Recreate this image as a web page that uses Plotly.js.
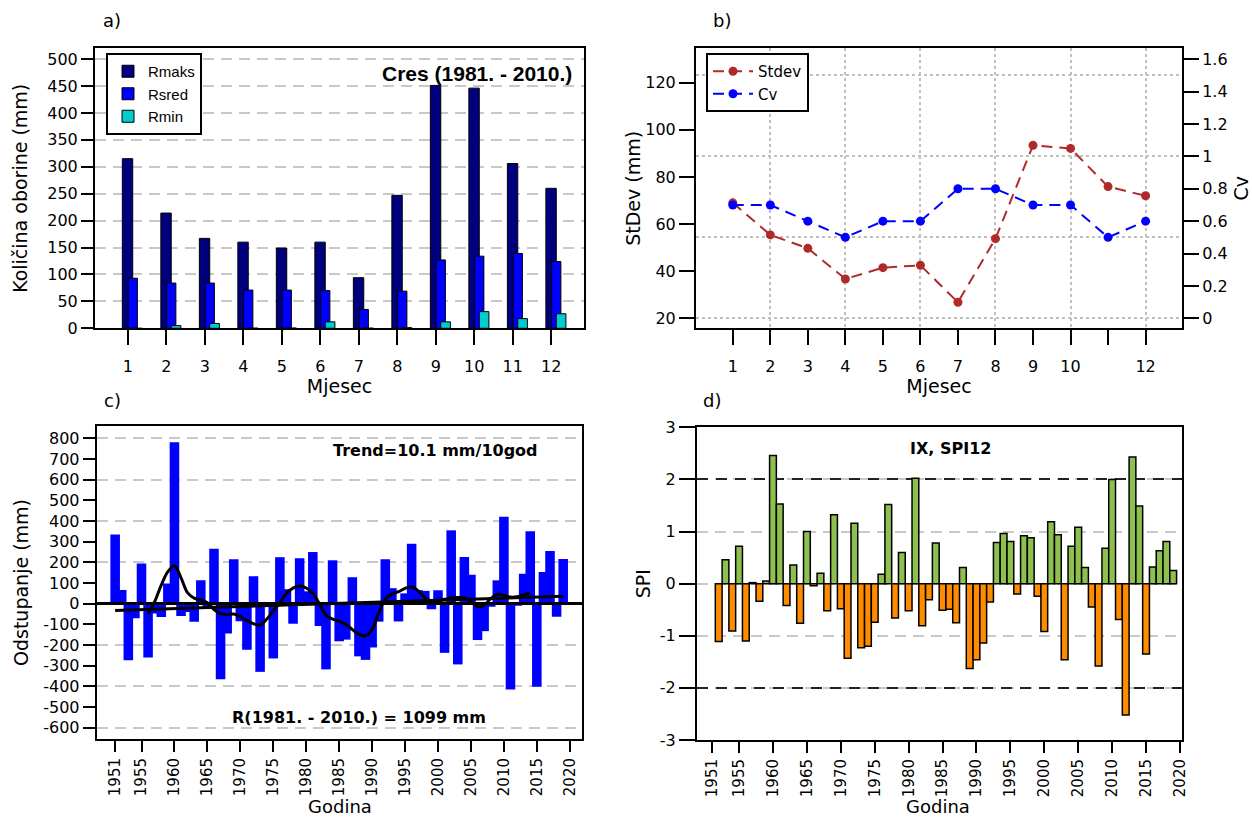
<!DOCTYPE html>
<html><head><meta charset="utf-8">
<script src="https://cdn.plot.ly/plotly-3.0.1.min.js"></script>
<style>html,body{margin:0;padding:0;background:#fff}#chart{width:1252px;height:818px}</style>
</head><body><div id="chart"></div>
<script>
// ---------- data ----------
const months = [1,2,3,4,5,6,7,8,9,10,11,12];
const monthLabels = ['1','2','3','4','5','6','7','8','9','10','11','12'];
const monthLabelsB = ['1','2','3','4','5','6','7','8','9','10','','12'];
const rMaks = [315,214,167,160,149,160,94,247,451,446,306,260];
const rSred = [93,84,84,71,71,70,35,69,127,134,139,124];
const rMin  = [0,5,9,0.3,0.5,12,0.3,1.2,12,31,18,27];
const stdev = [69,55.4,49.7,36.7,41.5,42.5,26.8,53.8,93.4,92.1,75.9,72];
const cv    = [0.7,0.7,0.6,0.5,0.6,0.6,0.8,0.8,0.7,0.7,0.5,0.6];

const devYears = [1951,1952,1953,1954,1955,1956,1957,1958,1959,1960,1961,1962,1963,1964,1965,1966,1967,1968,1969,1970,
  1971,1972,1973,1974,1975,1976,1977,1978,1979,1980,1981,1982,1983,1984,1985,1986,1987,1988,1989,1990,
  1991,1992,1993,1994,1995,1996,1997,1998,1999,2000,2001,2002,2003,2004,2005,2006,2007,2008,2009,2010,
  2011,2012,2013,2014,2015,2016,2017,2018,2019];
const deviation = [335,66,-274,-71,194,-261,-47,-64,98,781,-60,-40,-88,113,-15,266,-366,-144,215,-85,
  -223,133,-330,8,-265,225,70,-97,220,60,250,-108,-318,210,-182,-174,128,-255,-272,-212,
  -87,215,75,-86,50,290,65,62,-27,65,-238,355,-294,226,140,-176,-133,-15,113,421,
  -415,-10,145,350,-402,153,255,-63,216];
const smoothYears = [1956,1957,1958,1959,1960,1961,1962,1963,1964,1965,1966,1967,1968,1969,1970,
  1971,1972,1973,1974,1975,1976,1977,1978,1979,1980,1981,1982,1983,1984,1985,1986,1987,1988,1989,1990,
  1991,1992,1993,1994,1995,1996,1997,1998,1999,2000,2001,2002,2003,2004,2005,2006,2007,2008,2009,2010,
  2011,2012,2013,2014];
const smoothVals = [-50,10,90,155,184,125,52,27,18,5,-28,-48,-52,-50,-62,
  -82,-97,-103,-75,-35,5,50,75,85,76,50,0,-55,-75,-84,-100,-125,-148,-156,-125,
  -45,22,46,58,74,82,62,30,13,15,21,27,30,28,12,-14,-8,25,45,41,
  32,34,44,50];
const trendYears = [1951, 2019];
const trendVals = [-33, 36];
const yearTicks = [1951,1955,1960,1965,1970,1975,1980,1985,1990,1995,2000,2005,2010,2015,2020];

const spiYears = [1952,1953,1954,1955,1956,1957,1958,1959,1960,1961,1962,1963,1964,1965,1966,1967,1968,1969,1970,
  1971,1972,1973,1974,1975,1976,1977,1978,1979,1980,1981,1982,1983,1984,1985,1986,1987,1988,1989,1990,
  1991,1992,1993,1994,1995,1996,1997,1998,1999,2000,2001,2002,2003,2004,2005,2006,2007,2008,2009,2010,
  2011,2012,2013,2014,2015,2016,2017,2018,2019];
const spi = [-1.11,0.46,-0.91,0.72,-1.10,0.02,-0.34,0.05,2.46,1.53,-0.42,0.36,-0.76,1.00,-0.04,0.20,-0.52,1.32,-0.48,
  -1.43,1.16,-1.23,-1.20,-0.74,0.18,1.52,-0.66,0.60,-0.52,2.02,-0.81,-0.31,0.78,-0.51,-0.49,-0.75,0.31,-1.63,-1.46,
  -1.14,-0.35,0.79,0.96,0.81,-0.20,0.92,0.88,-0.24,-0.92,1.19,0.94,-1.46,0.72,1.08,0.31,-0.45,-1.58,0.68,2.00,
  -0.69,-2.52,2.43,1.49,-1.35,0.32,0.63,0.81,0.25];

// ---------- helpers ----------
const W = 1252, H = 818;
const px = v => v / W, py = v => 1 - v / H;
const FONT = 'DejaVu Sans, sans-serif';
const tickF = {family: FONT, size: 16, color: '#000'};
const yearTickF = {family: FONT, size: 15, color: '#000'};
const titleF = {family: FONT, size: 19, color: '#000'};
const godinaF = {family: FONT, size: 18, color: '#000'};
const base = {showline: true, mirror: true, linecolor: '#000', linewidth: 2,
  ticks: 'outside', ticklen: 15, tickwidth: 2, tickcolor: '#000', tickfont: tickF,
  zeroline: false, showgrid: false, automargin: false, fixedrange: true};
const gridOnly = {showline: false, ticks: '', showticklabels: false, zeroline: false, automargin: false};
const toStr = a => a.map(v => String(v));

const aX = [0.15, 12.85], aY = [0, 520];
const bX = [0.02, 12.97], bY = [15.76, 134.6], bC = [-0.0618, 1.668];
const cX = [1948.2, 2021.9], cY = [-655, 860];
const dX = [1948.8, 2020.3], dY = [-3, 3];

const yTicksA = [0,50,100,150,200,250,300,350,400,450,500];
const yTicksB = [20,40,60,80,100,120];
const cvTicks = [0,0.2,0.4,0.6,0.8,1,1.2,1.4,1.6];
const cvGrid = [0,0.5,1,1.5];
const monthGrid = [2,4,6,8,10,12];
const yTicksC = [-600,-500,-400,-300,-200,-100,0,100,200,300,400,500,600,700,800];
const gridC = [-600,-400,-200,200,400,600,800];
const yTicksD = [-3,-2,-1,0,1,2,3];

const traces = [
  {type:'bar', name:'Rmaks', x: months, y: rMaks, xaxis:'x', yaxis:'y', width:0.27, offset:-0.14,
   marker:{color:'#00007f', line:{color:'#000', width:1}}, legend:'legend'},
  {type:'bar', name:'Rsred', x: months, y: rSred, xaxis:'x', yaxis:'y', width:0.24, offset:0.01,
   marker:{color:'#0000ff', line:{color:'#000', width:1}}, legend:'legend'},
  {type:'bar', name:'Rmin', x: months, y: rMin, xaxis:'x', yaxis:'y', width:0.25, offset:0.13,
   marker:{color:'#00cdcd', line:{color:'#000', width:1}}, legend:'legend'},

  {type:'scatter', mode:'lines', x:[null], y:[null], xaxis:'x5', yaxis:'y2', showlegend:false, hoverinfo:'skip'},
  {type:'scatter', mode:'lines', x:[null], y:[null], xaxis:'x2', yaxis:'y6', showlegend:false, hoverinfo:'skip'},
  {type:'scatter', mode:'lines+markers', name:'Stdev', x: months, y: stdev, xaxis:'x2', yaxis:'y2',
   line:{color:'#b02a2a', width:2, dash:'11px,7px'}, marker:{color:'#b02a2a', size:9}, legend:'legend2'},
  {type:'scatter', mode:'lines+markers', name:'Cv', x: months, y: cv, xaxis:'x2', yaxis:'y3',
   line:{color:'#0000ff', width:2, dash:'11px,7px'}, marker:{color:'#0000ff', size:9}, legend:'legend2'},

  {type:'scatter', mode:'lines', x:[null], y:[null], xaxis:'x3', yaxis:'y7', showlegend:false, hoverinfo:'skip'},
  {type:'bar', x: devYears, y: deviation, xaxis:'x3', yaxis:'y4', width:1.45,
   marker:{color:'#0000ff', line:{width:0}}, showlegend:false},
  {type:'scatter', mode:'lines', x: smoothYears, y: smoothVals, xaxis:'x3', yaxis:'y4',
   line:{color:'#000', width:3, shape:'spline'}, showlegend:false},
  {type:'scatter', mode:'lines', x: trendYears, y: trendVals, xaxis:'x3', yaxis:'y4',
   line:{color:'#000', width:3}, showlegend:false},

  {type:'scatter', mode:'lines', x:[null], y:[null], xaxis:'x4', yaxis:'y8', showlegend:false, hoverinfo:'skip'},
  {type:'bar', x: spiYears, y: spi, xaxis:'x4', yaxis:'y5', width:1.0,
   marker:{color: spi.map(v => v >= 0 ? '#8dc04f' : '#ff8c00'), line:{color:'#000', width:1.5}}, showlegend:false}
];

const ann = (text, x, y, font, extra) => Object.assign({text, x: px(x), y: py(y), xref:'paper', yref:'paper',
  xanchor:'center', yanchor:'middle', showarrow:false, font}, extra || {});
const labF = {family:FONT, size:18, color:'#000'};
const boldF = {family:FONT, size:16, color:'#000'};

const layout = {
  width: W, height: H, margin:{l:0, r:0, t:0, b:0}, paper_bgcolor:'#fff', plot_bgcolor:'#fff',
  barmode:'overlay', font:{family: FONT, color:'#000'},
  // a)
  xaxis: Object.assign({}, base, {domain:[px(95), px(584)], range:aX, anchor:'y', tickvals: months, ticktext: monthLabels,
    ticklabelstandoff: 7, title:{text:'Mjesec', font:titleF, standoff:4}}),
  yaxis: Object.assign({}, base, {domain:[py(328.3), py(48.3)], range:aY, anchor:'x', tickvals: yTicksA, ticktext: toStr(yTicksA),
    ticklen:12, showgrid:true, gridcolor:'#c8c8c8', gridwidth:2, griddash:'11px,7px',
    title:{text:'Količina oborine (mm)', font:titleF, standoff:15}}),
  // b)
  xaxis2: Object.assign({}, base, {domain:[px(696), px(1182)], range:bX, anchor:'y2', tickvals: months, ticktext: monthLabelsB,
    ticklabelstandoff: 7, title:{text:'Mjesec', font:titleF, standoff:4}}),
  yaxis2: Object.assign({}, base, {domain:[py(328.3), py(48.3)], range:bY, anchor:'x2', tickvals: yTicksB, ticktext: toStr(yTicksB),
    title:{text:'StDev (mm)', font:titleF, standoff:0}}),
  yaxis3: Object.assign({}, base, {overlaying:'y2', side:'right', anchor:'x2', range:bC, tickvals: cvTicks, ticktext: toStr(cvTicks),
    mirror:false, title:{text:'Cv', font:titleF, standoff:12}}),
  xaxis5: Object.assign({}, gridOnly, {overlaying:'x2', anchor:'y2', range:bX, tickvals: monthGrid,
    showgrid:true, gridcolor:'#c0c0c0', gridwidth:2, griddash:'dot'}),
  yaxis6: Object.assign({}, gridOnly, {overlaying:'y2', anchor:'x2', range:bC, tickvals: cvGrid,
    showgrid:true, gridcolor:'#c0c0c0', gridwidth:2, griddash:'dot'}),
  // c)
  xaxis3: Object.assign({}, base, {domain:[px(96.7), px(582.3)], range:cX, anchor:'y4', tickvals: yearTicks, ticktext: toStr(yearTicks),
    tickangle:-90, ticklen:11, tickfont: yearTickF, ticklabelstandoff: 0}),
  yaxis4: Object.assign({}, base, {domain:[py(739), py(426)], range:cY, anchor:'x3', tickvals: yTicksC, ticktext: toStr(yTicksC),
    ticklen:12, zeroline:true, zerolinecolor:'#000', zerolinewidth:2.5, zerolinelayer:'above traces',
    title:{text:'Odstupanje (mm)', font:titleF, standoff:10}}),
  yaxis7: Object.assign({}, gridOnly, {overlaying:'y4', anchor:'x3', range:cY, tickvals: gridC,
    showgrid:true, gridcolor:'#c8c8c8', gridwidth:2, griddash:'11px,7px'}),
  // d)
  xaxis4: Object.assign({}, base, {domain:[px(697), px(1182)], range:dX, anchor:'y5', tickvals: yearTicks, ticktext: toStr(yearTicks),
    tickangle:-90, ticklen:11, tickfont: yearTickF, ticklabelstandoff: 0}),
  yaxis5: Object.assign({}, base, {domain:[py(740), py(427.3)], range:dY, anchor:'x4', tickvals: yTicksD, ticktext: toStr(yTicksD),
    ticklen:16, showgrid:true, gridcolor:'#c8c8c8', gridwidth:2, griddash:'11px,7px',
    title:{text:'SPI', font:titleF, standoff:4}}),
  yaxis8: Object.assign({}, gridOnly, {overlaying:'y5', anchor:'x4', range:dY, tickvals:[-2, 2],
    showgrid:true, gridcolor:'#222', gridwidth:2, griddash:'11px,8px'}),

  legend: {x: px(106), y: py(53), xanchor:'left', yanchor:'top', bgcolor:'#fff', bordercolor:'#000', borderwidth:2,
    font:{family:'Liberation Sans, Arial, sans-serif', size:15, color:'#000'}, tracegroupgap:0, itemwidth:30},
  legend2: {x: px(706), y: py(53), xanchor:'left', yanchor:'top', bgcolor:'#fff', bordercolor:'#000', borderwidth:2,
    font:{family: FONT, size:15, color:'#000'}, tracegroupgap:0, itemwidth:40},

  annotations: [
    ann('a)', 112, 20, labF),
    ann('b)', 722, 20, labF),
    ann('c)', 112, 400, labF),
    ann('d)', 712, 401, labF),
    ann('<b>Cres (1981. - 2010.)</b>', 574, 73, {family:'Liberation Sans, Arial, sans-serif', size:21, color:'#000'}, {xanchor:'right'}),
    ann('<b>Trend=10.1 mm/10god</b>', 435, 451, boldF),
    ann('<b>R(1981. - 2010.) = 1099 mm</b>', 359, 717, boldF),
    ann('<b>IX, SPI12</b>', 950, 448, boldF),
    ann('Godina', 340, 806, godinaF),
    ann('Godina', 938, 806, godinaF)
  ]
};

Plotly.newPlot('chart', traces, layout, {staticPlot:true, displayModeBar:false});
</script>
</body></html>
